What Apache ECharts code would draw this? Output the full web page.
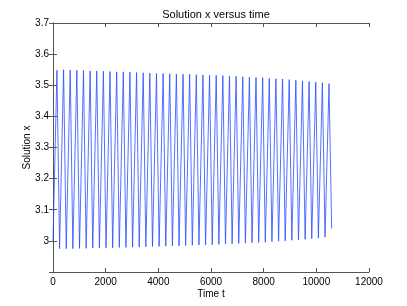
<!DOCTYPE html>
<html>
<head>
<meta charset="utf-8">
<script src="https://cdn.jsdelivr.net/npm/echarts@6/dist/echarts.min.js"></script>
<style>html,body{margin:0;padding:0;background:#fff;}#c{width:407px;height:306px;}</style>
</head>
<body>
<div id="c"></div>
<script>
var titleText = 'Solution x versus time';
var xName = 'Time t';
var yName = 'Solution x';
var xTicks = [0, 2000, 4000, 6000, 8000, 10000, 12000];
var yTicks = [2.9, 3.0, 3.1, 3.2, 3.3, 3.4, 3.5, 3.6, 3.7];

var startPoint = [0, 3.0];
var endPoint = [10583, 3.04];
var peakTimes = [150, 402, 654, 906, 1158, 1410, 1662, 1914, 2166, 2418, 2670, 2922, 3174, 3426, 3678, 3930, 4182, 4434, 4686, 4938, 5190, 5442, 5694, 5946, 6198, 6450, 6702, 6954, 7206, 7458, 7710, 7962, 8214, 8466, 8718, 8970, 9222, 9474, 9726, 9978, 10230, 10482];
var peakValues = [3.548, 3.550, 3.549, 3.548, 3.547, 3.546, 3.546, 3.545, 3.544, 3.543, 3.543, 3.542, 3.541, 3.540, 3.539, 3.538, 3.538, 3.537, 3.536, 3.535, 3.535, 3.534, 3.533, 3.532, 3.532, 3.531, 3.530, 3.529, 3.527, 3.526, 3.525, 3.524, 3.522, 3.521, 3.520, 3.518, 3.516, 3.514, 3.512, 3.510, 3.508, 3.505];
var troughTimes = [250, 502, 754, 1006, 1258, 1510, 1762, 2014, 2266, 2518, 2770, 3022, 3274, 3526, 3778, 4030, 4282, 4534, 4786, 5038, 5290, 5542, 5794, 6046, 6298, 6550, 6802, 7054, 7306, 7558, 7810, 8062, 8314, 8566, 8818, 9070, 9322, 9574, 9826, 10078, 10330];
var troughValues = [2.975, 2.975, 2.975, 2.976, 2.976, 2.977, 2.977, 2.978, 2.978, 2.979, 2.979, 2.980, 2.980, 2.981, 2.982, 2.982, 2.983, 2.984, 2.984, 2.985, 2.986, 2.987, 2.987, 2.988, 2.989, 2.990, 2.991, 2.992, 2.993, 2.994, 2.995, 2.996, 2.998, 2.999, 3.000, 3.002, 3.003, 3.005, 3.007, 3.009, 3.012];

var data = [startPoint];
for (var i = 0; i < peakTimes.length; i++) {
  data.push([peakTimes[i], peakValues[i]]);
  if (i < troughTimes.length) data.push([troughTimes[i], troughValues[i]]);
}
data.push(endPoint);

var font = 'Liberation Sans, Arial, Helvetica, sans-serif';
var axisColor = '#555';
var chart = echarts.init(document.getElementById('c'), null, {renderer: 'canvas'});
var common = {
  axisLine: {show: true, lineStyle: {color: axisColor, width: 1}},
  axisTick: {show: true, inside: true, length: 4, lineStyle: {color: axisColor}},
  splitLine: {show: false}
};
chart.setOption({
  animation: false,
  backgroundColor: '#fff',
  title: {text: titleText, left: 211, top: 4, textAlign: 'center',
    textStyle: {fontFamily: font, fontSize: 11, fontWeight: 'normal', color: '#000'}},
  grid: {left: 53, right: 38, top: 23, bottom: 34},
  xAxis: [
    Object.assign({type: 'value', min: xTicks[0], max: xTicks[xTicks.length - 1], interval: 2000,
      name: xName, nameLocation: 'middle', nameGap: 17, nameMoveOverlap: false,
      nameTextStyle: {fontFamily: font, fontSize: 10, color: '#000'},
      axisLabel: {fontFamily: font, fontSize: 10, color: '#000', margin: 5,
        formatter: function (v) { return String(v); }}}, common),
    Object.assign({type: 'value', position: 'top', min: xTicks[0], max: xTicks[xTicks.length - 1], interval: 2000,
      axisLabel: {show: false}}, common)
  ],
  yAxis: [
    Object.assign({type: 'value', min: yTicks[0], max: yTicks[yTicks.length - 1], interval: 0.1,
      name: yName, nameLocation: 'middle', nameGap: 21, nameMoveOverlap: false,
      nameTextStyle: {fontFamily: font, fontSize: 10, color: '#000'},
      axisLabel: {fontFamily: font, fontSize: 10, color: '#000', margin: 4, showMinLabel: false,
        formatter: function (v) { return String(Math.round(v * 10) / 10); }}}, common),
    Object.assign({type: 'value', position: 'right', min: yTicks[0], max: yTicks[yTicks.length - 1], interval: 0.1,
      axisLabel: {show: false}}, common)
  ],
  series: [{
    type: 'line', data: data, xAxisIndex: 0, yAxisIndex: 0,
    showSymbol: false, symbol: 'none',
    lineStyle: {color: '#2a4cff', width: 0.8}
  }]
});
</script>
</body>
</html>
